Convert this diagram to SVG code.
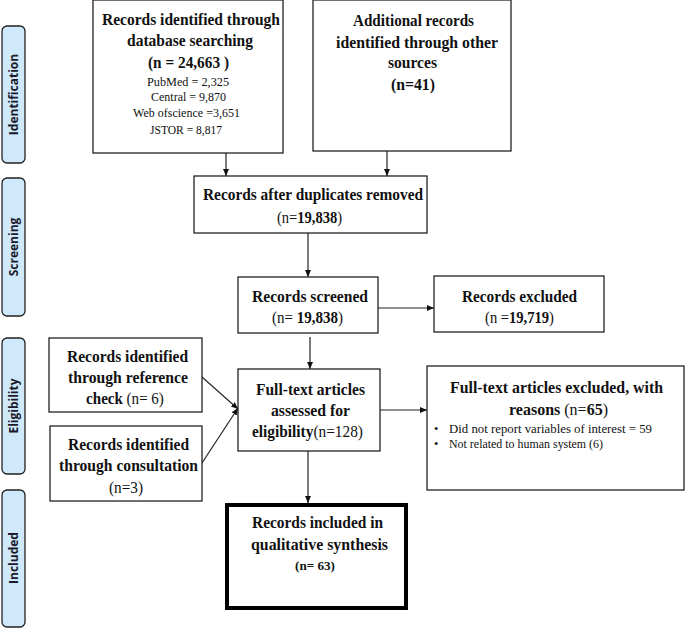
<svg xmlns="http://www.w3.org/2000/svg" width="685" height="628" viewBox="0 0 685 628">
<style>
.box{fill:#fff;stroke:#222;stroke-width:1.3}
.thick{fill:#fff;stroke:#000;stroke-width:4}
.side{fill:#cfe8fa;stroke:#222;stroke-width:1.3}
.sl{font-family:"Open Sans","DejaVu Sans",sans-serif;font-weight:bold;font-size:12px;fill:#1a1a2a;text-anchor:middle}
.b{font-family:"Liberation Serif","Times New Roman",serif;font-weight:bold;font-size:16px;fill:#111;text-anchor:middle}
.r{font-family:"Liberation Serif","Times New Roman",serif;font-size:12.5px;fill:#111;text-anchor:middle}
.rl{font-family:"Liberation Serif","Times New Roman",serif;font-size:12.5px;fill:#111}
.n{font-weight:normal}
.con{stroke:#222;stroke-width:1.2;fill:none;marker-end:url(#ah)}
</style>
<defs>
<marker id="ah" markerWidth="8" markerHeight="8" refX="7" refY="4" orient="auto" markerUnits="userSpaceOnUse">
<path d="M0,1 L7,4 L0,7 Z" fill="#111"/>
</marker>
</defs>
<rect width="685" height="628" fill="#fff"/>

<g id="side-identification"><rect class="side" x="2" y="26" width="23" height="137" rx="5"/><text class="sl" transform="translate(17.8,94.5) rotate(-90)">Identification</text></g>
<g id="side-screening"><rect class="side" x="2" y="178" width="23" height="138" rx="5"/><text class="sl" transform="translate(17.8,247) rotate(-90)">Screening</text></g>
<g id="side-eligibility"><rect class="side" x="2" y="338" width="23" height="136" rx="5"/><text class="sl" transform="translate(17.8,406) rotate(-90)">Eligibility</text></g>
<g id="side-included"><rect class="side" x="2" y="490" width="23" height="137" rx="5"/><text class="sl" transform="translate(17.8,558) rotate(-90)">Included</text></g>

<g id="connectors">
<line class="con" x1="226" y1="153" x2="226" y2="176"/>
<line class="con" x1="387" y1="151" x2="387" y2="176"/>
<line class="con" x1="308" y1="233" x2="308" y2="277"/>
<line class="con" x1="378" y1="308" x2="434" y2="308"/>
<line class="con" x1="310" y1="337" x2="310" y2="369"/>
<line class="con" x1="202" y1="377" x2="238" y2="409"/>
<line class="con" x1="202" y1="463" x2="238" y2="408"/>
<line class="con" x1="380" y1="410" x2="427" y2="410"/>
<line class="con" x1="308" y1="451" x2="308" y2="503"/>
</g>

<g id="db-search">
<rect class="box" x="93" y="0" width="190" height="153"/>
<text class="b" x="191" y="25" textLength="178" lengthAdjust="spacingAndGlyphs">Records identified through</text>
<text class="b" x="190" y="46" textLength="126" lengthAdjust="spacingAndGlyphs">database searching</text>
<text class="b" x="188.5" y="68" textLength="81" lengthAdjust="spacingAndGlyphs">(n = 24,663 )</text>
<text class="r" x="188" y="86" textLength="82" lengthAdjust="spacingAndGlyphs">PubMed = 2,325</text>
<text class="r" x="188.5" y="101" textLength="75" lengthAdjust="spacingAndGlyphs">Central = 9,870</text>
<text class="r" x="186.5" y="117" textLength="107" lengthAdjust="spacingAndGlyphs">Web ofscience =3,651</text>
<text class="r" x="186" y="134" textLength="72" lengthAdjust="spacingAndGlyphs">JSTOR = 8,817</text>
</g>

<g id="other-sources">
<rect class="box" x="313" y="0" width="198" height="151"/>
<text class="b" x="413.5" y="26" textLength="121" lengthAdjust="spacingAndGlyphs">Additional records</text>
<text class="b" x="417" y="48" textLength="162" lengthAdjust="spacingAndGlyphs">identified through other</text>
<text class="b" x="412.5" y="68" textLength="49" lengthAdjust="spacingAndGlyphs">sources</text>
<text class="b" x="413" y="90" textLength="44" lengthAdjust="spacingAndGlyphs">(n=41)</text>
</g>

<g id="duplicates">
<rect class="box" x="194" y="176" width="233" height="57"/>
<text class="b" x="313" y="200" textLength="220" lengthAdjust="spacingAndGlyphs">Records after duplicates removed</text>
<text class="b" transform="translate(309.5,223) scale(0.91,1)"><tspan class="n">(n=</tspan>19,838<tspan class="n">)</tspan></text>
</g>

<g id="screened">
<rect class="box" x="238" y="277" width="140" height="56"/>
<text class="b" x="310" y="302" textLength="116" lengthAdjust="spacingAndGlyphs">Records screened</text>
<text class="b" transform="translate(307.5,323) scale(0.94,1)"><tspan class="n">(n= </tspan>19,838<tspan class="n">)</tspan></text>
</g>

<g id="excluded">
<rect class="box" x="434" y="276" width="170" height="56"/>
<text class="b" x="519.5" y="302" textLength="115" lengthAdjust="spacingAndGlyphs">Records excluded</text>
<text class="b" transform="translate(519.5,323) scale(0.91,1)"><tspan class="n">(n =</tspan>19,719<tspan class="n">)</tspan></text>
</g>

<g id="ref-check">
<rect class="box" x="49" y="338" width="153" height="74"/>
<text class="b" x="127.5" y="362" textLength="121" lengthAdjust="spacingAndGlyphs">Records identified</text>
<text class="b" x="128" y="383" textLength="120" lengthAdjust="spacingAndGlyphs">through reference</text>
<text class="b" transform="translate(125,404) scale(0.94,1)">check<tspan class="n"> (n= 6)</tspan></text>
</g>

<g id="consultation">
<rect class="box" x="50" y="426" width="152" height="75"/>
<text class="b" x="128.5" y="450" textLength="121" lengthAdjust="spacingAndGlyphs">Records identified</text>
<text class="b" x="128.5" y="471" textLength="139" lengthAdjust="spacingAndGlyphs">through consultation</text>
<text class="b n" x="126" y="493" textLength="34" lengthAdjust="spacingAndGlyphs">(n=3)</text>
</g>

<g id="fulltext">
<rect class="box" x="238" y="369" width="142" height="82"/>
<text class="b" x="310.5" y="395" textLength="109" lengthAdjust="spacingAndGlyphs">Full-text articles</text>
<text class="b" x="310.5" y="416" textLength="79" lengthAdjust="spacingAndGlyphs">assessed for</text>
<text class="b" transform="translate(307.5,437) scale(0.96,1)">eligibility<tspan class="n">(n=128)</tspan></text>
</g>

<g id="fulltext-excluded">
<rect class="box" x="427" y="366" width="257" height="124"/>
<text class="b" x="556.5" y="393" textLength="213" lengthAdjust="spacingAndGlyphs">Full-text articles excluded, with</text>
<text class="b" x="558.5" y="415">reasons <tspan class="n">(n=</tspan>65<tspan class="n">)</tspan></text>
<text class="rl" x="434" y="433">•</text>
<text class="rl" x="449" y="433" textLength="203" lengthAdjust="spacingAndGlyphs">Did not report variables of interest = 59</text>
<text class="rl" x="434" y="448">•</text>
<text class="rl" x="449" y="448" textLength="154" lengthAdjust="spacingAndGlyphs">Not related to human system (6)</text>
</g>

<g id="included">
<rect class="thick" x="227" y="505" width="179" height="103"/>
<text class="b" x="317.5" y="528" textLength="131" lengthAdjust="spacingAndGlyphs">Records included in</text>
<text class="b" x="319.5" y="550" textLength="137" lengthAdjust="spacingAndGlyphs">qualitative synthesis</text>
<text class="b" x="315" y="570" style="font-size:12.5px" textLength="40" lengthAdjust="spacingAndGlyphs">(n= 63)</text>
</g>
</svg>
